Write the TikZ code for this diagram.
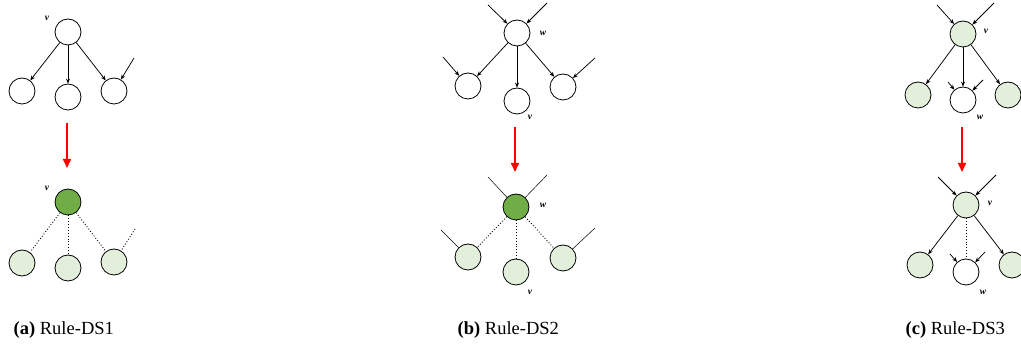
\documentclass[tikz,border=0pt]{standalone}
\usepackage{fontspec}
\setmainfont{Liberation Serif}
\usetikzlibrary{shapes,automata,arrows,arrows.meta}

\definecolor{lightgreen}{HTML}{E2EFDA}
\definecolor{darkgreen}{HTML}{70AD47}

\begin{document}
\begin{tikzpicture}[
      x = 1pt, y = -1pt,
      > = {Stealth[length=5pt, width=4pt]},
      line width = 0.75pt]

      \tikzstyle{every state}=[
      draw = black,
      line width = 0.8pt,
      fill = white,
      minimum size = 26pt,
      inner sep = 0pt]
      \tikzstyle{light}=[fill = lightgreen]
      \tikzstyle{dark}=[fill = darkgreen]
      \tikzstyle{lbl}=[font = \fontsize{9.5}{9.5}\selectfont\bfseries\itshape]
      \tikzstyle{rule}=[-{Triangle[length=9pt, width=8pt]}, red, line width = 1.6pt]
      \tikzstyle{faded}=[dotted, line width = 0.9pt]
      \tikzstyle{loose}=[line width = 0.5pt]
      \tikzstyle{caption}=[anchor = west, font = \fontsize{18.5}{18.5}\selectfont]

      \useasboundingbox (0,0) rectangle (1021,347);

      % (a) Rule-DS1
      \node[state] (av) at (68,32) {};
      \node[lbl] at (47,18) {v};
      \node[state] (a1) at (22,91) {};
      \node[state] (a2) at (68,97) {};
      \node[state] (a3) at (114,91) {};
      \coordinate (ax) at (134,58);
      \path[->] (av) edge (a1) (av) edge (a2) (av) edge (a3) (ax) edge (a3);

      \coordinate (ra1) at (67,123);
      \coordinate (ra2) at (67,168);
      \draw[rule] (ra1) -- (ra2);

      \node[state, dark] (bv) at (68,202) {};
      \node[lbl] at (47,188) {v};
      \node[state, light] (b1) at (22,263) {};
      \node[state, light] (b2) at (68,268) {};
      \node[state, light] (b3) at (114,262) {};
      \coordinate (bx) at (135,229);
      \path[faded] (bv) edge (b1) (bv) edge (b2) (bv) edge (b3) (bx) edge (b3);

      % (b) Rule-DS2
      \node[state] (cw) at (517,33) {};
      \node[lbl] at (543,33) {w};
      \coordinate (cin1) at (488,5);
      \coordinate (cin2) at (547,3);
      \node[state] (c1) at (468,86) {};
      \node[state] (c2) at (517,101) {};
      \node[state] (c3) at (563,87) {};
      \node[lbl] at (530,117) {v};
      \coordinate (cx1) at (443,57);
      \coordinate (cx3) at (595,58);
      \path[->] (cin1) edge (cw) (cin2) edge (cw)
      (cw) edge (c1) (cw) edge (c2) (cw) edge (c3)
      (cx1) edge (c1) (cx3) edge (c3);

      \coordinate (rb1) at (515,127);
      \coordinate (rb2) at (515,172);
      \draw[rule] (rb1) -- (rb2);

      \node[state, dark] (dw) at (516,207) {};
      \node[lbl] at (543,205) {w};
      \coordinate (din1) at (488,177);
      \coordinate (din2) at (547,175);
      \node[state, light] (d1) at (468,257) {};
      \node[state, light] (d2) at (516,272) {};
      \node[state, light] (d3) at (563,258) {};
      \node[lbl] at (530,292) {v};
      \coordinate (dx1) at (441,230);
      \coordinate (dx3) at (595,228);
      \path[loose] (din1) edge (dw) (din2) edge (dw) (dx1) edge (d1) (dx3) edge (d3);
      \path[faded] (dw) edge (d1) (dw) edge (d2) (dw) edge (d3);

      % (c) Rule-DS3
      \node[state, light] (ev) at (963,34) {};
      \node[lbl] at (986,31) {v};
      \coordinate (ein1) at (937,5);
      \coordinate (ein2) at (994,3);
      \node[state, light] (e1) at (918,95) {};
      \node[state] (e2) at (963,100) {};
      \node[state, light] (e3) at (1008,95) {};
      \node[lbl] at (980,117) {w};
      \coordinate (ey1) at (948,82);
      \coordinate (ey2) at (983,80);
      \path[->] (ein1) edge (ev) (ein2) edge (ev)
      (ev) edge (e1) (ev) edge (e2) (ev) edge (e3)
      (ey1) edge (e2) (ey2) edge (e2);

      \coordinate (rc1) at (962,127);
      \coordinate (rc2) at (962,172);
      \draw[rule] (rc1) -- (rc2);

      \node[state, light] (fv) at (966,205) {};
      \node[lbl] at (990,203) {v};
      \coordinate (fin1) at (938,177);
      \coordinate (fin2) at (996,175);
      \node[state, light] (f1) at (920,265) {};
      \node[state] (f2) at (966,272) {};
      \node[state, light] (f3) at (1012,265) {};
      \node[lbl] at (983,292) {w};
      \coordinate (fy1) at (950,254);
      \coordinate (fy2) at (985,252);
      \path[->] (fin1) edge (fv) (fin2) edge (fv)
      (fv) edge (f1) (fv) edge (f3)
      (fy1) edge (f2) (fy2) edge (f2);
      \path[faded] (fv) edge (f2);

      % captions
      \node[caption] (capa) at (10,330) {\textbf{(a)} Rule-DS1};
      \node[caption] (capb) at (454,330) {\textbf{(b)} Rule-DS2};
      \node[caption] (capc) at (902,330) {\textbf{(c)} Rule-DS3};
\end{tikzpicture}
\end{document}
